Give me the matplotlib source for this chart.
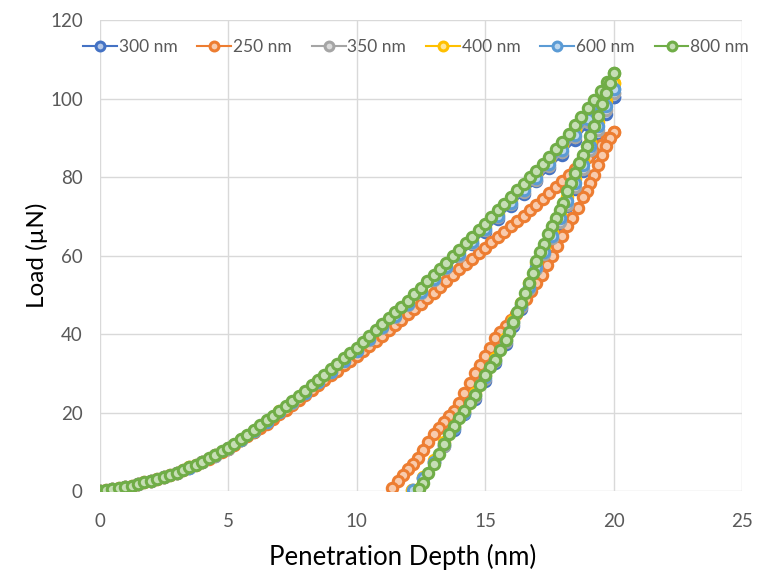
import matplotlib
matplotlib.use("Agg")
import matplotlib.pyplot as plt
import numpy as np
from matplotlib.colors import to_rgb

plt.rcParams['font.family'] = ['Lato', 'DejaVu Sans']

# ---- data ----
labels = ["300 nm", "250 nm", "350 nm", "400 nm", "600 nm", "800 nm"]
colors = ["#4472C4", "#ED7D31", "#A5A5A5", "#FFC000", "#5B9BD5", "#70AD47"]

# fine loading grid (250 nm / 800 nm) and coarse one (others)
depth_fine = np.arange(0, 20.001, 0.25)
depth_coarse = np.arange(0, 20.001, 0.5)

load_800 = [0.0, 0.2, 0.4, 0.7, 1.0, 1.4, 1.8, 2.2, 2.6, 3.1, 3.6, 4.1, 4.7, 5.4, 6.0, 6.7,
            7.5, 8.3, 9.2, 10.1, 11.0, 12.1, 13.2, 14.3, 15.5, 16.7, 18.0, 19.2, 20.5, 21.7,
            23.0, 24.2, 25.5, 26.9, 28.3, 29.6, 31.0, 32.4, 33.8, 35.1, 36.5, 38.0, 39.5,
            41.0, 42.5, 44.0, 45.5, 47.0, 48.5, 50.1, 51.7, 53.4, 55.0, 56.6, 58.2, 59.9,
            61.5, 63.1, 64.7, 66.4, 68.0, 69.7, 71.5, 73.2, 75.0, 76.6, 78.2, 79.9, 81.5,
            83.4, 85.2, 87.1, 89.0, 91.1, 93.2, 95.4, 97.5, 99.7, 101.9, 104.2, 106.5]
load_250 = [0.0, 0.2, 0.4, 0.7, 1.0, 1.4, 1.8, 2.2, 2.6, 3.1, 3.6, 4.1, 4.7, 5.3, 6.0, 6.7,
            7.4, 8.2, 9.1, 9.9, 10.8, 11.8, 12.9, 13.9, 15.0, 16.1, 17.2, 18.4, 19.5, 20.7,
            22.0, 23.2, 24.5, 25.7, 27.0, 28.2, 29.5, 30.7, 32.0, 33.2, 34.5, 35.7, 37.0,
            38.2, 39.5, 40.9, 42.2, 43.6, 45.0, 46.4, 47.7, 49.1, 50.5, 52.0, 53.5, 55.0,
            56.5, 57.9, 59.2, 60.6, 62.0, 63.4, 64.7, 66.1, 67.5, 68.9, 70.2, 71.6, 73.0,
            74.5, 76.0, 77.5, 79.0, 80.5, 82.0, 83.5, 85.0, 86.6, 88.2, 89.9, 91.5]
load_400 = [0, 0.4, 1.0, 1.8, 2.6, 3.6, 4.7, 6.0, 7.4, 9.1, 10.9, 13.0, 15.3, 17.8, 20.3,
            22.8, 25.2, 28.0, 30.6, 33.4, 36.0, 39.0, 42.0, 44.9, 47.9, 51.0, 54.3, 57.5,
            60.8, 64.0, 67.3, 70.7, 74.1, 77.3, 80.5, 84.1, 87.8, 91.9, 96.0, 100.0, 104.0]
load_600 = [0, 0.4, 1.0, 1.8, 2.6, 3.6, 4.7, 5.9, 7.4, 9.1, 10.9, 13.0, 15.2, 17.7, 20.2,
            22.6, 25.1, 27.8, 30.4, 33.2, 35.8, 38.8, 41.7, 44.6, 47.6, 50.7, 53.9, 57.1,
            60.3, 63.5, 66.8, 70.2, 73.5, 76.6, 79.8, 83.3, 86.9, 90.8, 94.8, 98.6, 102.5]
load_350 = [0, 0.4, 1.0, 1.8, 2.6, 3.6, 4.7, 5.9, 7.3, 9.0, 10.8, 12.9, 15.2, 17.6, 20.1,
            22.5, 25.0, 27.7, 30.3, 33.0, 35.7, 38.6, 41.5, 44.4, 47.4, 50.5, 53.7, 56.8,
            60.0, 63.2, 66.4, 69.8, 73.1, 76.2, 79.3, 82.7, 86.3, 90.1, 94.0, 97.7, 101.5]
load_300 = [0, 0.4, 1.0, 1.8, 2.6, 3.6, 4.7, 5.9, 7.3, 9.0, 10.8, 12.9, 15.1, 17.5, 20.0,
            22.4, 24.9, 27.6, 30.2, 32.9, 35.5, 38.4, 41.3, 44.2, 47.2, 50.3, 53.4, 56.5,
            59.7, 62.9, 66.1, 69.4, 72.7, 75.8, 78.9, 82.2, 85.7, 89.4, 93.2, 96.9, 100.5]

# unloading branches
unl_depth_800 = [20.0, 19.85, 19.7, 19.55, 19.4, 19.25, 19.1, 18.95, 18.8, 18.65, 18.5, 18.35,
                 18.2, 18.05, 17.9, 17.75, 17.6, 17.45, 17.3, 17.15, 17.0, 16.85, 16.7, 16.55,
                 16.4, 16.25, 16.1, 15.95, 15.8, 15.6, 15.4, 15.2, 15.0, 14.8, 14.6, 14.4,
                 14.2, 14.0, 13.8, 13.6, 13.4, 13.2, 13.0, 12.8, 12.6, 12.45]
unl_load_800 = [106.5, 104, 101.5, 98.5, 95.5, 93, 90.5, 88, 85.5, 83.5, 81, 78.5, 76.5, 73.5,
                71.5, 69.5, 67.5, 65.5, 63, 61, 58.5, 55.5, 53, 50.5, 48, 45.5, 43, 40.5, 38.5,
                36, 33.5, 31.5, 29.5, 27, 24.5, 22.5, 20.5, 18.5, 16.5, 14.5, 12, 9.5, 7, 4.5,
                2, 0.4]
unl_depth_250 = [20.0, 19.85, 19.7, 19.55, 19.4, 19.25, 19.1, 18.95, 18.8, 18.6, 18.4, 18.2,
                 18.0, 17.8, 17.6, 17.4, 17.2, 17.0, 16.8, 16.6, 16.4, 16.2, 16.0, 15.8, 15.6,
                 15.4, 15.2, 15.0, 14.8, 14.6, 14.4, 14.2, 14.0, 13.8, 13.6, 13.4, 13.2, 13.0,
                 12.8, 12.6, 12.4, 12.2, 12.0, 11.8, 11.6, 11.4]
unl_load_250 = [91.5, 90, 88, 85.5, 83, 80.5, 78.5, 76.5, 75, 72, 69.5, 67.5, 65, 62.5, 60,
                57.5, 55, 53, 51, 49, 47, 45, 43.5, 42, 40.5, 39, 36.5, 34.5, 32, 30, 27.5, 25,
                22.5, 20.5, 19, 17.5, 16, 14.5, 12.5, 10.5, 8.5, 7, 5.5, 4, 2.5, 0.8]
unl_depth_400 = [20.0, 19.7, 19.4, 19.1, 18.8, 18.5, 18.2, 17.9, 17.6, 17.3, 17.0, 16.7, 16.4,
                 16.1, 15.8, 15.4, 15.0, 14.6, 14.2, 13.8, 13.4, 13.0, 12.6, 12.15]
unl_load_400 = [104, 99.5, 94, 89, 84, 79.5, 75, 70.5, 66, 62, 58, 53, 48, 43.5, 39, 34, 29.5,
                25, 20.5, 16.5, 12.5, 8, 3.5, 0.3]
unl_depth_600 = [20.0, 19.7, 19.4, 19.1, 18.8, 18.5, 18.2, 17.9, 17.6, 17.3, 17.0, 16.7, 16.4,
                 16.1, 15.8, 15.4, 15.0, 14.6, 14.2, 13.8, 13.4, 13.0, 12.6, 12.2]
unl_load_600 = [102.5, 98, 93, 88, 83, 78.5, 74, 69.5, 65, 61, 57, 52, 47.5, 43, 38.5, 33.5,
                29, 24.5, 20, 16, 12, 7.5, 3.2, 0.3]
unl_depth_350 = [20.0, 19.7, 19.4, 19.1, 18.8, 18.5, 18.2, 17.9, 17.6, 17.3, 17.0, 16.7, 16.4,
                 16.1, 15.8, 15.4, 15.0, 14.6, 14.2, 13.8, 13.4, 13.0, 12.6, 12.15]
unl_load_350 = [101.5, 97, 92, 87, 82, 77.5, 73, 68.5, 64.5, 60.5, 56.5, 51.5, 47, 42.5, 38,
                33, 28.5, 24, 20, 16, 11.5, 7.5, 3.2, 0.3]
unl_depth_300 = [20.0, 19.7, 19.4, 19.1, 18.8, 18.5, 18.2, 17.9, 17.6, 17.3, 17.0, 16.7, 16.4,
                 16.1, 15.8, 15.4, 15.0, 14.6, 14.2, 13.8, 13.4, 13.0, 12.6, 12.2]
unl_load_300 = [100.5, 96, 91, 86, 81.5, 77, 72.5, 68, 64, 60, 56, 51, 46.5, 42, 37.5, 32.5,
                28, 23.5, 19.5, 15.5, 11.5, 7.5, 3.2, 0.3]

series = [
    (depth_coarse, load_300, unl_depth_300, unl_load_300),
    (depth_fine, load_250, unl_depth_250, unl_load_250),
    (depth_coarse, load_350, unl_depth_350, unl_load_350),
    (depth_coarse, load_400, unl_depth_400, unl_load_400),
    (depth_coarse, load_600, unl_depth_600, unl_load_600),
    (depth_fine, load_800, unl_depth_800, unl_load_800),
]


def tint(c, f=0.6):
    r, g, b = to_rgb(c)
    return (r + (1 - r) * f, g + (1 - g) * f, b + (1 - b) * f)


fig = plt.figure(figsize=(7.58, 5.74), dpi=100)
ax = fig.add_axes([0.1313, 0.1446, 0.8476, 0.8204])

for (dl, ll, du, lu), lab, col in zip(series, labels, colors):
    x = np.concatenate([dl, du])
    y = np.concatenate([ll, lu])
    ax.plot(x, y, color=col, lw=1.5, marker='o', markersize=7.5,
            markerfacecolor=tint(col), markeredgecolor=col, markeredgewidth=2.2,
            label=lab)

ax.set_xlim(0, 25)
ax.set_ylim(0, 120)
ax.set_xticks(range(0, 26, 5))
ax.set_yticks(range(0, 121, 20))
ax.grid(True, color='#D9D9D9', lw=1)
ax.set_axisbelow(True)
for s in ax.spines.values():
    s.set_visible(False)
ax.tick_params(length=0, labelsize=13.5, labelcolor='#595959')
ax.tick_params(axis='x', pad=16)
ax.tick_params(axis='y', pad=12)

ax.set_xlabel("Penetration Depth (nm)", fontsize=18.5)
ax.set_ylabel("Load (µN)", fontsize=17.5)
ax.xaxis.set_label_coords(0.471, -0.112)
ax.yaxis.set_label_coords(-0.080, 0.5)

leg = ax.legend(loc='center', bbox_to_anchor=(0.4926, 0.943), ncol=6, frameon=False,
                fontsize=12.5, handlelength=1.95, handletextpad=0.1, columnspacing=1.15,
                markerscale=0.85, borderaxespad=0, borderpad=0)
for t in leg.get_texts():
    t.set_color('#595959')

fig.savefig("out.png", dpi=100)
